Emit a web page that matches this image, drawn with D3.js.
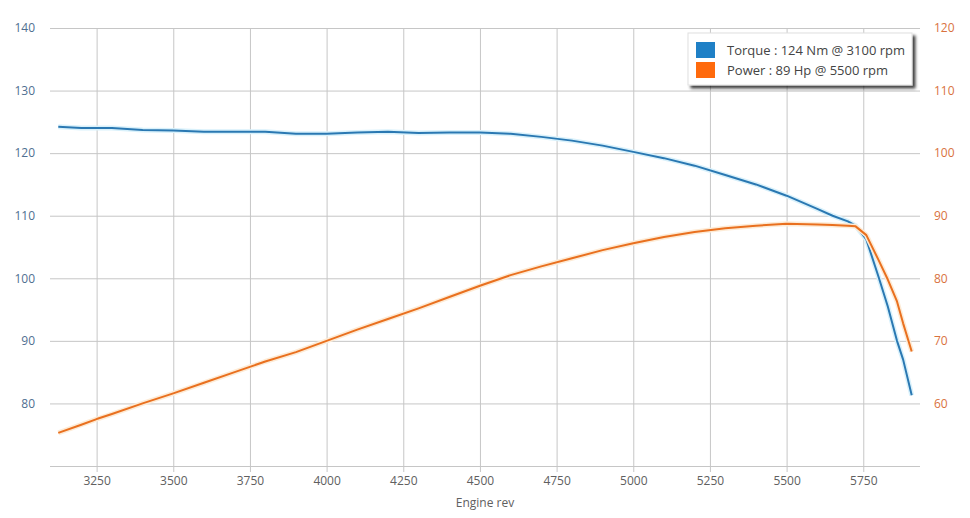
<!DOCTYPE html>
<html>
<head>
<meta charset="utf-8">
<script src="https://cdn.jsdelivr.net/npm/d3@7"></script>
<style>
  body { margin: 0; background: #fff; }
  svg text { font-family: "Open Sans", "DejaVu Sans", sans-serif; }
</style>
</head>
<body>
<div id="wrapper"></div>
<script>
const rpm    = [3125, 3200, 3250, 3300, 3400, 3500, 3600, 3700, 3800, 3900, 4000, 4100, 4200, 4300, 4400, 4500,
                4600, 4700, 4800, 4900, 5000, 5100, 5200, 5300, 5400, 5500, 5600, 5650, 5700, 5725, 5760, 5800,
                5830, 5860, 5880, 5908]
const torque = [124.2, 124.0, 124.0, 124.0, 123.7, 123.6, 123.4, 123.4, 123.4, 123.1, 123.1, 123.3, 123.4, 123.2, 123.3, 123.3,
                123.1, 122.6, 122.0, 121.2, 120.2, 119.2, 118.0, 116.5, 115.0, 113.2, 111.1, 110.0, 109.1, 108.4, 106.2, 100.2,
                95.5, 90.0, 87.0, 81.3]
const power  = [55.3, 56.6, 57.5, 58.3, 60.0, 61.6, 63.3, 65.0, 66.7, 68.2, 70.0, 71.8, 73.5, 75.2, 77.0, 78.8,
                80.5, 81.9, 83.2, 84.5, 85.6, 86.6, 87.4, 88.0, 88.4, 88.7, 88.6, 88.5, 88.4, 88.3, 86.9, 82.9,
                79.8, 76.3, 72.8, 68.3]

const xTicks = [3250, 3500, 3750, 4000, 4250, 4500, 4750, 5000, 5250, 5500, 5750]
const leftTicks = [70, 80, 90, 100, 110, 120, 130, 140]
const rightTicks = [50, 60, 70, 80, 90, 100, 110, 120]

const legendItems = [
  { label: 'Torque : 124 Nm @ 3100 rpm', color: '#1f80c6' },
  { label: 'Power : 89 Hp @ 5500 rpm', color: '#ff6a0c' },
]

let dimensions = {
  width: 970,
  height: 518,
  margin: { top: 28, right: 50, bottom: 52, left: 50 },
}
dimensions.boundedWidth = dimensions.width - dimensions.margin.left - dimensions.margin.right
dimensions.boundedHeight = dimensions.height - dimensions.margin.top - dimensions.margin.bottom

const wrapper = d3.select('#wrapper')
  .append('svg')
    .attr('width', dimensions.width)
    .attr('height', dimensions.height)

const bounds = wrapper.append('g')
  .attr('transform', `translate(${dimensions.margin.left}, ${dimensions.margin.top})`)

const xScale = d3.scaleLinear()
  .domain([3098, 5935])
  .range([0, dimensions.boundedWidth])

const torqueScale = d3.scaleLinear()
  .domain([70, 140])
  .range([dimensions.boundedHeight, 0])

const powerScale = d3.scaleLinear()
  .domain([50, 120])
  .range([dimensions.boundedHeight, 0])

// grid
const gridColor = '#c6c6c6'

const xAxis = bounds.append('g')
  .attr('transform', `translate(0, ${dimensions.boundedHeight})`)
  .call(d3.axisBottom(xScale).tickValues(xTicks).tickFormat(d3.format('d'))
    .tickSize(-dimensions.boundedHeight).tickSizeOuter(0).tickPadding(10))
xAxis.select('.domain').remove()
xAxis.selectAll('.tick line').attr('stroke', gridColor).attr('y1', 6)
xAxis.selectAll('.tick text')
  .attr('fill', '#606060')
  .style('font-size', '12px')

const leftAxis = bounds.append('g')
  .call(d3.axisLeft(torqueScale).tickValues(leftTicks).tickSize(-dimensions.boundedWidth).tickPadding(15))
leftAxis.select('.domain').remove()
leftAxis.selectAll('.tick line').attr('stroke', gridColor)
leftAxis.selectAll('.tick text')
  .attr('fill', '#4f6f91')
  .style('font-size', '12px')
  .text(d => d === 70 ? '' : d)

const rightAxis = bounds.append('g')
  .attr('transform', `translate(${dimensions.boundedWidth}, 0)`)
  .call(d3.axisRight(powerScale).tickValues(rightTicks).tickSize(0).tickPadding(14))
rightAxis.select('.domain').remove()
rightAxis.selectAll('.tick text')
  .attr('fill', '#d9723e')
  .style('font-size', '12px')
  .text(d => d === 50 ? '' : d)

bounds.append('text')
  .attr('x', dimensions.boundedWidth / 2)
  .attr('y', dimensions.boundedHeight + 41)
  .attr('text-anchor', 'middle')
  .attr('fill', '#606060')
  .style('font-size', '12px')
  .text('Engine rev')

// lines
const torqueLine = d3.line()
  .x((d, i) => xScale(rpm[i]))
  .y(d => torqueScale(d))

const powerLine = d3.line()
  .x((d, i) => xScale(rpm[i]))
  .y(d => powerScale(d))

const series = [
  { values: torque, gen: torqueLine, color: '#2a78b2', glow: '#d9f1fb' },
  { values: power, gen: powerLine, color: '#e9701f', glow: '#fdeBd6' },
]

series.forEach(s => {
  bounds.append('path')
    .attr('d', s.gen(s.values))
    .attr('fill', 'none')
    .attr('stroke', s.glow)
    .attr('stroke-width', 5)
    .attr('stroke-linejoin', 'round')
  bounds.append('path')
    .attr('d', s.gen(s.values))
    .attr('fill', 'none')
    .attr('stroke', s.color)
    .attr('stroke-width', 2)
    .attr('stroke-linejoin', 'round')
})

// legend
const defs = wrapper.append('defs')
const filter = defs.append('filter').attr('id', 'shadow')
  .attr('x', '-10%').attr('y', '-20%').attr('width', '130%').attr('height', '160%')
filter.append('feDropShadow')
  .attr('dx', 3).attr('dy', 3).attr('stdDeviation', 1.5)
  .attr('flood-color', '#000').attr('flood-opacity', 0.75)

const legend = wrapper.append('g')
  .attr('transform', 'translate(688, 33)')

legend.append('rect')
  .attr('width', 224)
  .attr('height', 52)
  .attr('fill', '#fff')
  .attr('stroke', '#e0e0e0')
  .attr('filter', 'url(#shadow)')

legendItems.forEach((item, i) => {
  const row = legend.append('g').attr('transform', `translate(8, ${9 + i * 20})`)
  row.append('rect')
    .attr('width', 19)
    .attr('height', 16)
    .attr('fill', item.color)
  row.append('text')
    .attr('x', 31)
    .attr('y', 13)
    .attr('fill', '#444')
    .style('font-size', '13px')
    .text(item.label)
})
</script>
</body>
</html>
